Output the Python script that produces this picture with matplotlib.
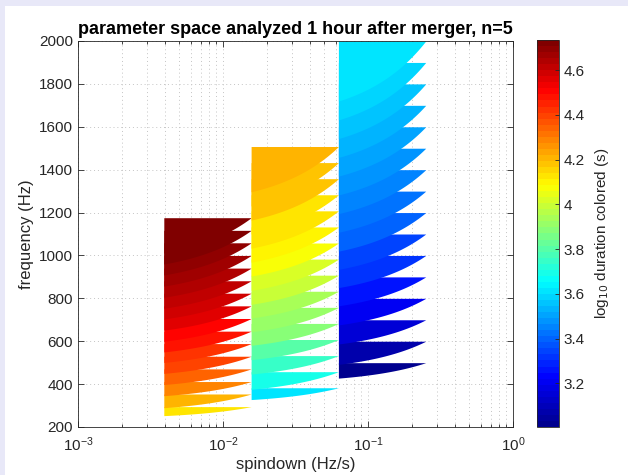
import numpy as np
import matplotlib
matplotlib.use('Agg')
import matplotlib.pyplot as plt
from matplotlib.colors import LinearSegmentedColormap, Normalize
from matplotlib.cm import ScalarMappable
from matplotlib.patches import Rectangle

plt.rcParams['font.family'] = ['Liberation Sans', 'DejaVu Sans']

# spindown edges of the three searched blocks (Hz/s)
FDOT_EDGES = [0.00390625, 0.015625, 0.0625, 0.25]

# block 1: tip frequency, frequency at the low-spindown edge, log10 duration
G1_TIP = [295, 354, 412, 471, 530, 589, 647, 706, 765, 824, 882, 941, 1000, 1059, 1117, 1176]
G1_LEFT = [253, 290, 346, 398, 450, 501, 550, 600, 652, 704, 754, 805, 857, 909, 960, 1011]
G1_DUR = [4.13, 4.21, 4.28, 4.33, 4.39, 4.43, 4.47, 4.51, 4.55, 4.58, 4.61, 4.64, 4.66, 4.69, 4.71, 4.73]

# block 2
G2_TIP = [383, 458, 533, 608, 683, 758, 833, 908, 983, 1058, 1133, 1208, 1283, 1358, 1433, 1508]
G2_LEFT = [328, 376, 447, 514, 581, 644, 708, 772, 837, 904, 969, 1034, 1100, 1165, 1231, 1297]
G2_DUR = [3.61, 3.69, 3.76, 3.81, 3.87, 3.91, 3.95, 3.99, 4.03, 4.06, 4.09, 4.12, 4.14, 4.17, 4.19, 4.21]

# block 3
G3_TIP = [500, 600, 700, 800, 900, 1000, 1100, 1200, 1300, 1400, 1500, 1600, 1700, 1800, 1900, 2000]
G3_LEFT = [428, 492, 587, 676, 765, 850, 935, 1020, 1108, 1195, 1282, 1370, 1457, 1545, 1632, 1720]
G3_DUR = [3.01, 3.08, 3.15, 3.21, 3.26, 3.31, 3.35, 3.39, 3.42, 3.45, 3.48, 3.51, 3.54, 3.56, 3.59, 3.61]

CLIM = (3.005, 4.735)
CB_TICKS = [3.2, 3.4, 3.6, 3.8, 4.0, 4.2, 4.4, 4.6]
CB_LABELS = ['3.2', '3.4', '3.6', '3.8', '4', '4.2', '4.4', '4.6']

# matlab style jet, 64 levels
jet = LinearSegmentedColormap('mjet', {
    'red': [(0, 0, 0), (3/8, 0, 0), (5/8, 1, 1), (7/8, 1, 1), (1, 0.5, 0.5)],
    'green': [(0, 0, 0), (1/8, 0, 0), (3/8, 1, 1), (5/8, 1, 1), (7/8, 0, 0), (1, 0, 0)],
    'blue': [(0, 0.5625, 0.5625), (1/8, 1, 1), (3/8, 1, 1), (5/8, 0, 0), (1, 0, 0)],
}, N=64)
norm = Normalize(*CLIM)

fig = plt.figure(figsize=(6.28, 4.75), dpi=100)
fig.patch.set_facecolor('#e8e8f8')
fig.add_artist(Rectangle((5 / 628, 0), 1, 1 - 6 / 475, transform=fig.transFigure,
                         facecolor='white', edgecolor='none', zorder=-1))

ax = fig.add_axes([78 / 628, 48 / 475, 435 / 628, 386 / 475])
ax.set_xscale('log')
ax.set_xlim(1e-3, 1)
ax.set_ylim(200, 2000)
ax.set_yticks(range(200, 2001, 200))
ax.set_axisbelow(True)
ax.grid(True, which='major', ls=(0, (1, 3)), color='#c4c4c4', lw=0.7)
ax.grid(True, which='minor', axis='x', ls=(0, (1, 3)), color='#c4c4c4', lw=0.7)
ax.tick_params(which='both', direction='in', top=True, right=True,
               labelsize=11, colors='#262626', width=0.6)
ax.tick_params(which='major', length=4)
ax.tick_params(which='minor', length=2)
ax.tick_params(axis='x', which='major', pad=6)
for s in ax.spines.values():
    s.set_color('#262626')
    s.set_linewidth(0.6)

groups = [(G1_TIP, G1_LEFT, G1_DUR), (G2_TIP, G2_LEFT, G2_DUR), (G3_TIP, G3_LEFT, G3_DUR)]
for g, (tips, lefts, durs) in enumerate(groups):
    lo, hi = FDOT_EDGES[g], FDOT_EDGES[g + 1]
    x = np.geomspace(lo, hi, 120)
    # lower bands first, each higher band covers the left part of the one below
    for tip, left, d in zip(tips, lefts, durs):
        lower = left + (tip - left) * (x - lo) / (hi - lo)
        ax.fill_between(x, lower, tip, color=jet(norm(d)), linewidth=0)

ax.set_title('parameter space analyzed 1 hour after merger, n=5',
             fontsize=13, fontweight='bold', color='black', pad=5)
ax.set_xlabel('spindown (Hz/s)', fontsize=12, color='#262626', labelpad=2)
ax.set_ylabel('frequency (Hz)', fontsize=12, color='#262626', labelpad=4)

cax = fig.add_axes([537 / 628, 48 / 475, 22 / 628, 387 / 475])
cb = fig.colorbar(ScalarMappable(norm=norm, cmap=jet), cax=cax)
cb.set_ticks(CB_TICKS)
cb.set_ticklabels(CB_LABELS)
cb.ax.tick_params(direction='in', length=3, labelsize=11, colors='#262626', width=0.6)
cb.outline.set_edgecolor('#262626')
cb.outline.set_linewidth(0.6)
cb.set_label(r'log$_{10}$ duration colored (s)', fontsize=11, color='#262626', labelpad=6)

fig.savefig('out.png', dpi=100, facecolor=fig.get_facecolor())
